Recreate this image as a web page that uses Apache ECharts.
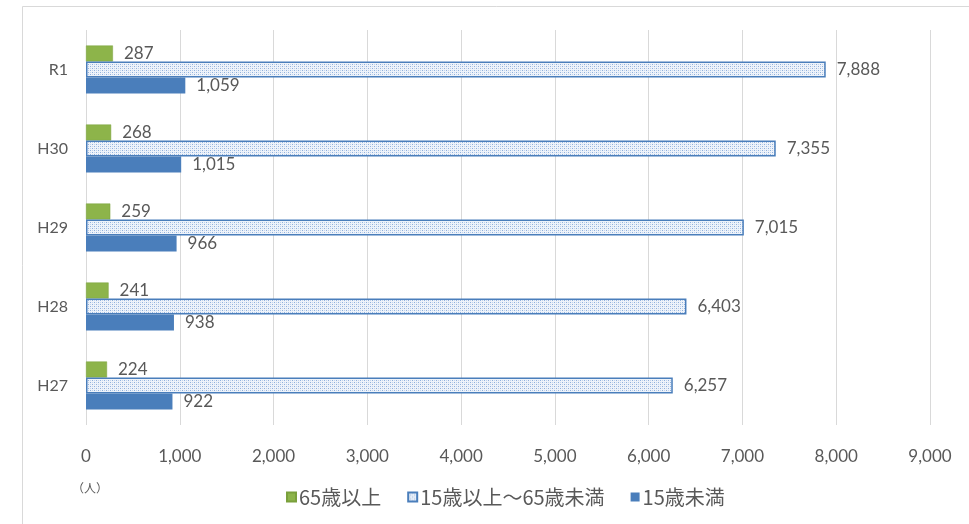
<!DOCTYPE html>
<html>
<head>
<meta charset="utf-8">
<script src="https://cdn.jsdelivr.net/npm/echarts@6/dist/echarts.min.js"></script>
<style>
html,body{margin:0;padding:0;background:#fff;}
#chart{width:969px;height:524px;}
</style>
</head>
<body>
<div id="chart"></div>
<script>
// Fiscal years, bottom to top
const years = ['H27', 'H28', 'H29', 'H30', 'R1'];
const seriesNames = ['65歳以上', '15歳以上～65歳未満', '15歳未満'];
const over65 = [224, 241, 259, 268, 287];
const age15to64 = [6257, 6403, 7015, 7355, 7888];
const under15 = [922, 938, 966, 1015, 1059];
const xTicks = { min: 0, max: 9000, interval: 1000 };

// Dotted fill for the working-age bars
function dotPattern() {
  const c = document.createElement('canvas');
  c.width = 4; c.height = 4;
  const g = c.getContext('2d');
  g.fillStyle = '#eef3fa';
  g.fillRect(0, 0, 4, 4);
  g.fillStyle = '#8fb0dc';
  g.fillRect(0, 0, 1, 1);
  g.fillRect(2, 2, 1, 1);
  g.fillStyle = '#c3d4ec';
  g.fillRect(2, 0, 1, 1);
  g.fillRect(0, 2, 1, 1);
  return c;
}

const numFont = 'Lato, "Noto Sans CJK JP", sans-serif';
const cjkFont = '"Noto Sans CJK JP", sans-serif';
const fmt = v => v.toLocaleString('en-US');

const labelCommon = {
  show: true,
  position: 'right',
  distance: 11,
  color: '#595959',
  fontSize: 17,
  fontFamily: numFont,
  formatter: p => fmt(p.value)
};

const chart = echarts.init(document.getElementById('chart'));
chart.setOption({
  backgroundColor: '#ffffff',
  animation: false,
  grid: { left: 86, right: 39, top: 30, bottom: 99 },
  xAxis: {
    type: 'value',
    min: xTicks.min, max: xTicks.max, interval: xTicks.interval,
    axisLine: { show: false },
    axisTick: { show: false },
    splitLine: { lineStyle: { color: '#d9d9d9', width: 1 } },
    axisLabel: {
      color: '#595959', fontSize: 17, fontFamily: numFont, margin: 23,
      formatter: v => fmt(v)
    }
  },
  yAxis: {
    type: 'category',
    data: years,
    axisLine: { show: false },
    axisTick: { show: false },
    axisLabel: { color: '#595959', fontSize: 16, fontFamily: numFont, margin: 18 }
  },
  legend: {
    top: 487,
    left: 286,
    padding: 0,
    itemWidth: 9,
    itemHeight: 9,
    itemGap: 26,
    icon: 'rect',
    textStyle: { color: '#595959', fontSize: 20, fontFamily: cjkFont, padding: [0, 0, 0, -2] },
    data: seriesNames
  },
  graphic: [
    {
      type: 'rect',
      shape: { x: 22.5, y: 6.5, width: 960, height: 540 },
      style: { fill: 'none', stroke: '#d9d9d9', lineWidth: 1 },
      silent: true
    },
    {
      type: 'text',
      left: 72, top: 482,
      style: { text: '（人）', fill: '#595959', fontSize: 12, fontFamily: cjkFont }
    }
  ],
  series: [
    {
      name: seriesNames[0],
      type: 'bar',
      data: over65,
      barWidth: 16,
      barGap: '0%',
      barCategoryGap: '39%',
      itemStyle: { color: '#8db44a', borderColor: '#7aa03c', borderWidth: 0.5 },
      label: labelCommon
    },
    {
      name: seriesNames[1],
      type: 'bar',
      data: age15to64,
      barWidth: 16,
      barGap: '0%',
      itemStyle: {
        color: { image: dotPattern(), repeat: 'repeat' },
        borderColor: '#4a7ebb',
        borderWidth: 1.5
      },
      label: labelCommon
    },
    {
      name: seriesNames[2],
      type: 'bar',
      data: under15,
      barWidth: 16,
      barGap: '0%',
      itemStyle: { color: '#4a7ebb' },
      label: labelCommon
    }
  ]
});
</script>
</body>
</html>
